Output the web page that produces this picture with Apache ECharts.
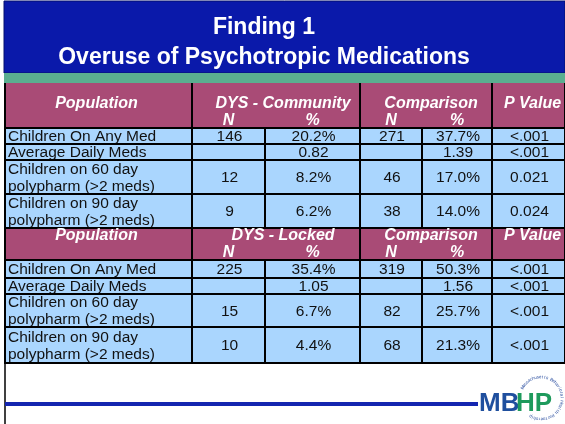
<!DOCTYPE html>
<html>
<head>
<meta charset="utf-8">
<script src="https://cdn.jsdelivr.net/npm/echarts@6/dist/echarts.min.js"></script>
<style>
  html, body { margin: 0; padding: 0; background: #fff; }
  #chart { width: 565px; height: 424px; }
</style>
</head>
<body>
<div id="chart"></div>
<script>
// table contents
const titleLines = ['Finding 1', 'Overuse of Psychotropic Medications'];
const rowLabels = ['Children On Any Med', 'Average Daily Meds', 'Children on 60 day\npolypharm (>2 meds)', 'Children on 90 day\npolypharm (>2 meds)'];
const subHeads = ['N', '%'];

// DYS - Community vs comparison
const communityN = [146, null, 12, 9];
const communityPct = ['20.2%', '0.82', '8.2%', '6.2%'];
const comparisonN1 = [271, null, 46, 38];
const comparisonPct1 = ['37.7%', '1.39', '17.0%', '14.0%'];
const pValue1 = ['<.001', '<.001', '0.021', '0.024'];

// DYS - Locked vs comparison
const lockedN = [225, null, 15, 10];
const lockedPct = ['35.4%', '1.05', '6.7%', '4.4%'];
const comparisonN2 = [319, null, 82, 68];
const comparisonPct2 = ['50.3%', '1.56', '25.7%', '21.3%'];
const pValue2 = ['<.001', '<.001', '<.001', '<.001'];

// layout (axis units, not data)
const colEdges = [0, 187, 260, 355, 417, 487, 560];
const rowEdges = [0, 45, 61, 77, 111, 145, 177, 195, 211, 244, 280];

const HEAD = '#a94b76';
const CELL = '#aad6fe';
const FONT = 'Arial, "Liberation Sans", sans-serif';

const cells = [];
function addTable(r, groupName, cols) {
  cells.push({ c0: 0, c1: 1, r0: r, kind: 'head', text: 'Population', dx: -2 });
  cells.push({ c0: 1, c1: 3, r0: r, kind: 'head', text: groupName, subs: subHeads, dx: 7 });
  cells.push({ c0: 3, c1: 5, r0: r, kind: 'head', text: 'Comparison', subs: subHeads, dx: 5 });
  cells.push({ c0: 5, c1: 6, r0: r, kind: 'head', text: 'P Value', dx: 4 });
  rowLabels.forEach((lab, i) => {
    cells.push({ c0: 0, c1: 1, r0: r + 1 + i, kind: 'label', text: lab });
    cols.forEach((arr, k) => {
      const v = arr[i];
      cells.push({ c0: k + 1, c1: k + 2, r0: r + 1 + i, kind: 'value', text: v == null ? '' : String(v) });
    });
  });
}
addTable(0, 'DYS - Community', [communityN, communityPct, comparisonN1, comparisonPct1, pValue1]);
addTable(5, 'DYS - Locked', [lockedN, lockedPct, comparisonN2, comparisonPct2, pValue2]);

const cellData = cells.map(c => [colEdges[c.c0], colEdges[c.c1], rowEdges[c.r0], rowEdges[c.r0 + 1]]);

function renderCell(params, api) {
  const cell = cells[params.dataIndex];
  const p0 = api.coord([api.value(0), api.value(2)]);
  const p1 = api.coord([api.value(1), api.value(3)]);
  const x0 = p0[0], y0 = p0[1], x1 = p1[0], y1 = p1[1];
  const isHead = cell.kind === 'head';
  const children = [{
    type: 'rect',
    shape: { x: x0, y: y0, width: x1 - x0, height: y1 - y0 },
    style: { fill: isHead ? HEAD : CELL }
  }];
  // no black edge along the top of the first header row
  const pts = cell.r0 === 0 ? [[x0, y0], [x0, y1], [x1, y1], [x1, y0]] : [[x1, y0], [x0, y0], [x0, y1], [x1, y1], [x1, y0]];
  children.push({ type: 'polyline', shape: { points: pts }, style: { fill: null, stroke: '#000', lineWidth: 2 } });

  if (isHead) {
    const headFont = { fill: '#fff', fontSize: 16, fontWeight: 'bold', fontStyle: 'italic', fontFamily: FONT, align: 'center', verticalAlign: 'middle' };
    children.push({ type: 'text', style: Object.assign({ text: cell.text, x: (x0 + x1) / 2 + (cell.dx || 0), y: y1 - 24 }, headFont) });
    (cell.subs || []).forEach((s, k) => {
      const cx = api.coord([(colEdges[cell.c0 + k] + colEdges[cell.c0 + k + 1]) / 2, 0])[0];
      children.push({ type: 'text', style: Object.assign({ text: s, x: cx, y: y1 - 7.5 }, headFont) });
    });
  } else if (cell.kind === 'label') {
    children.push({ type: 'text', style: { text: cell.text, x: x0 + 3, y: (y0 + y1) / 2 + 1, fill: '#111', fontSize: 15.5, fontFamily: FONT, lineHeight: 17, align: 'left', verticalAlign: 'middle' } });
  } else {
    children.push({ type: 'text', style: { text: cell.text, x: (x0 + x1) / 2 + 1, y: (y0 + y1) / 2 + 1, fill: '#111', fontSize: 15.5, fontFamily: FONT, align: 'center', verticalAlign: 'middle' } });
  }
  return { type: 'group', children };
}

// small circular text round the logo
const seal = 'Massachusetts Behavioral Health Partnership';
const sealCx = 541, sealCy = 398, sealR = 21;
const sealText = seal.split('').map((ch, i) => {
  const a = (-150 + i * 270 / (seal.length - 1)) * Math.PI / 180;
  return {
    type: 'text',
    x: sealCx + sealR * Math.cos(a),
    y: sealCy + sealR * Math.sin(a),
    rotation: -(a + Math.PI / 2),
    style: { text: ch, fill: '#2b4fa0', fontSize: 4.5, fontFamily: FONT, align: 'center', verticalAlign: 'middle' }
  };
});

const chart = echarts.init(document.getElementById('chart'), null, { renderer: 'canvas' });
chart.setOption({
  backgroundColor: '#fff',
  animation: false,
  title: {
    text: titleLines.join('\n'),
    left: 264,
    textAlign: 'center',
    top: 13,
    padding: 0,
    textStyle: { color: '#fff', fontSize: 23, fontWeight: 'bold', fontFamily: FONT, lineHeight: 30 }
  },
  grid: { left: 5, right: 0, top: 83, height: 280 },
  xAxis: { type: 'value', min: 0, max: 560, show: false },
  yAxis: { type: 'value', min: 0, max: 280, inverse: true, show: false },
  graphic: [
    { type: 'rect', z: -10, shape: { x: 4, y: 1, width: 561, height: 72 }, style: { fill: '#0a19aa', stroke: '#05106e', lineWidth: 1 } },
    { type: 'rect', z: -10, shape: { x: 4, y: 73, width: 561, height: 10 }, style: { fill: '#5aae90' } },
    { type: 'line', shape: { x1: 5, y1: 362, x2: 5, y2: 424 }, style: { stroke: '#000', lineWidth: 1.5 } },
    { type: 'line', shape: { x1: 5, y1: 404, x2: 478, y2: 404 }, style: { stroke: '#1426b0', lineWidth: 4 } },
    { type: 'text', x: 479, y: 404, style: { text: 'MB', fill: '#1f4f9e', fontSize: 26, fontWeight: 'bold', fontFamily: FONT, verticalAlign: 'middle' } },
    { type: 'text', x: 516, y: 404, style: { text: 'HP', fill: '#1e9a5c', fontSize: 26, fontWeight: 'bold', fontFamily: FONT, verticalAlign: 'middle' } }
  ].concat(sealText),
  series: [{
    type: 'custom',
    renderItem: renderCell,
    data: cellData,
    encode: { x: [0, 1], y: [2, 3] },
    clip: false,
    silent: true
  }]
});
</script>
</body>
</html>
